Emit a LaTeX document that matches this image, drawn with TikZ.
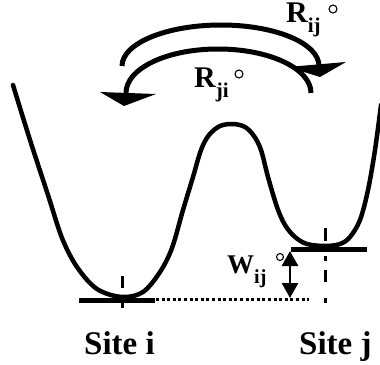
\documentclass[tikz,border=0pt]{standalone}
\usepackage{fontspec}
\setmainfont{Liberation Serif}
\usetikzlibrary{arrows.meta}
\tikzset{
  curve/.style={line width=4.5pt, line cap=round, line join=round},
  bar/.style={line width=5pt},
  tick/.style={line width=3pt},
  arc/.style={line width=5pt},
  head/.style={fill=black, draw=none},
  lab/.style={inner sep=0pt, font=\bfseries},
  degc/.style={circle, draw, line width=1.1pt, minimum size=8pt, inner sep=0pt},
  dots/.style={line width=3pt, dash pattern=on 3pt off 2.6pt},
}
\begin{document}
\begin{tikzpicture}[x=1pt,y=-1pt]
\useasboundingbox (0,0) rectangle (380,364);
% potential curve
\draw[curve] plot[smooth, tension=0.55] coordinates {
(13,85) (30,140) (48,195) (62,238) (77,267) (97,289) (122,297) (143,292)
(160,272) (172,248) (183,210) (193,177) (201,150) (209,135) (220,126) (233,124)
(245,127) (254,136) (261,150) (268,177) (277,207) (285,225) (295,237) (307,244)
(325,246) (340,244) (350,237) (360,220) (368,190) (375,150) (381,105)};
% site i bar and tick
\coordinate (bi1) at (79,300);
\coordinate (bi2) at (155,300);
\draw[bar] (bi1) -- (bi2);
\coordinate (ti1) at (122,276); \coordinate (ti2) at (122,288);
\coordinate (ti3) at (122,302); \coordinate (ti4) at (122,308);
\draw[tick] (ti1) -- (ti2);
\draw[tick] (ti3) -- (ti4);
% site j bar and tick
\coordinate (bj1) at (291,249);
\coordinate (bj2) at (367,249);
\draw[bar] (bj1) -- (bj2);
\coordinate (tj1) at (325,228); \coordinate (tj2) at (325,241);
\coordinate (tj3) at (325,256); \coordinate (tj4) at (325,261);
\coordinate (tj5) at (325,270); \coordinate (tj6) at (325,282);
\coordinate (tj7) at (325,298); \coordinate (tj8) at (325,303);
\draw[tick] (tj1) -- (tj2);
\draw[tick] (tj3) -- (tj4);
\draw[tick] (tj5) -- (tj6);
\draw[tick] (tj7) -- (tj8);
% dotted level line
\coordinate (d1) at (156,299);
\coordinate (d2) at (309,299);
\draw[dots] (d1) -- (d2);
% W double arrow
\coordinate (w1) at (290,251);
\coordinate (w2) at (290,298);
\draw[line width=2.5pt, {Triangle[width=16pt,length=15pt]}-{Triangle[width=16pt,length=15pt]}] (w1) -- (w2);
% upper arc R_ij
\coordinate (ua1) at (122,66);
\coordinate (ua2) at (221,25);
\coordinate (ua3) at (319,66);
\draw[arc] (ua1) .. controls (122,43.4) and (166.3,25) .. (ua2)
  .. controls (275.7,25) and (319,43.4) .. (ua3);
\fill[head] (288,67) -- (346,62) -- (320,77) -- cycle;
% lower arc R_ji
\coordinate (la1) at (311,93);
\coordinate (la2) at (218,49);
\coordinate (la3) at (126,93);
\draw[arc] (la1) .. controls (311,68.7) and (269.8,49) .. (la2)
  .. controls (166.2,49) and (126,68.7) .. (la3);
\fill[head] (100,92) -- (156,94) -- (124,106) -- cycle;
% labels
\node[lab, anchor=base west] (rij) at (286,22) {\fontsize{30}{30}\selectfont R\raisebox{-10pt}{\fontsize{21}{21}\selectfont ij}};
\node[degc] (dij) at (333,9) {};
\node[lab, anchor=base west] (rji) at (194,87) {\fontsize{30}{30}\selectfont R\raisebox{-10pt}{\fontsize{21}{21}\selectfont ji}};
\node[degc] (dji) at (239,74) {};
\node[lab, anchor=base west] (wij) at (227,273) {\fontsize{27}{27}\selectfont W\raisebox{-10pt}{\fontsize{20}{20}\selectfont ij}};
\node[degc, minimum size=7pt] (dwij) at (280,257) {};
\node[lab, anchor=base west, font=\bfseries\fontsize{33}{33}\selectfont] (si) at (84,354) {Site i};
\node[lab, anchor=base west, font=\bfseries\fontsize{33}{33}\selectfont] (sj) at (299,354) {Site j};
\end{tikzpicture}
\end{document}
